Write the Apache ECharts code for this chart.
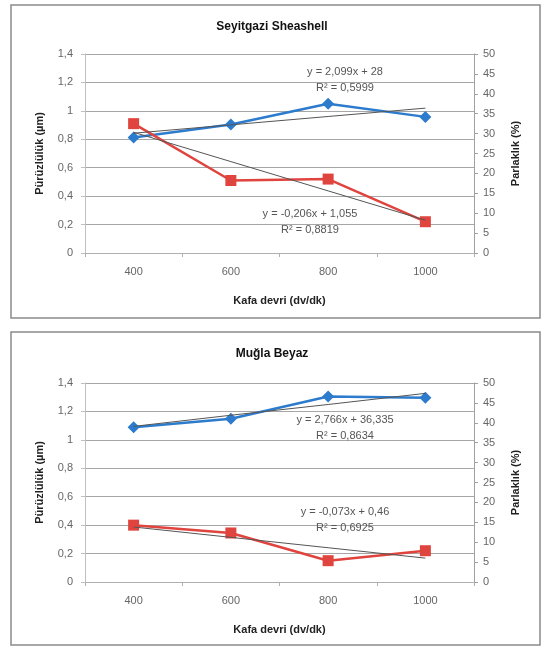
<!DOCTYPE html>
<html>
<head>
<meta charset="utf-8">
<script src="https://cdn.jsdelivr.net/npm/echarts@6/dist/echarts.min.js"></script>
<style>
html,body{margin:0;padding:0;background:#fff;}
#chart{width:544px;height:651px;}
</style>
</head>
<body>
<div id="chart"></div>
<script>
// kategoriler (Kafa devri)
var kategoriler = ['400', '600', '800', '1000'];

// 1. Seyitgazi Sheashell
var seyitParlaklik = [29.0, 32.3, 37.5, 34.2];
var seyitPuruz = [0.91, 0.51, 0.52, 0.22];
var seyitParlakTrend = [30.1, 32.2, 34.3, 36.4];
var seyitPuruzTrend = [0.849, 0.643, 0.437, 0.231];

// 2. Muğla Beyaz
var muglaParlaklik = [38.9, 41.0, 46.6, 46.3];
var muglaPuruz = [0.40, 0.345, 0.15, 0.22];
var muglaParlakTrend = [39.1, 41.9, 44.6, 47.4];
var muglaPuruzTrend = [0.387, 0.314, 0.241, 0.168];

var basliklar = ['Seyitgazi Sheashell', 'Muğla Beyaz'];
var denklemler = [
    ['y = 2,099x + 28', 'R² = 0,5999', 'y = -0,206x + 1,055', 'R² = 0,8819'],
    ['y = 2,766x + 36,335', 'R² = 0,8634', 'y = -0,073x + 0,46', 'R² = 0,6925']
];

var FONT = 'Liberation Sans';
var mavi = '#2d7bcc';
var kirmizi = '#e0443e';

var myChart = echarts.init(document.getElementById('chart'));

function virgul(v) {
    return String(+(+v).toFixed(2)).replace('.', ',');
}

var gridTop = [54, 383];
var grids = [], xAxes = [], yAxes = [], series = [];

for (var g = 0; g < 2; g++) {
    grids.push({left: 85, right: 70, top: gridTop[g], height: 199});
    xAxes.push({
        type: 'category',
        gridIndex: g,
        data: kategoriler,
        boundaryGap: true,
        name: 'Kafa devri (dv/dk)',
        nameLocation: 'middle',
        nameGap: 42,
        nameTextStyle: {color: '#222', fontFamily: FONT, fontSize: 11, fontWeight: 'bold'},
        axisLine: {show: true, lineStyle: {color: '#b0b0b0'}},
        axisTick: {show: true, length: 4, lineStyle: {color: '#b0b0b0'}},
        axisLabel: {color: '#666', fontFamily: FONT, fontSize: 11, margin: 13}
    });
    yAxes.push({
        type: 'value',
        gridIndex: g,
        min: 0, max: 1.4, interval: 0.2,
        name: 'Pürüzlülük (µm)',
        nameLocation: 'middle',
        nameGap: 40,
        nameRotate: 90,
        nameTextStyle: {color: '#222', fontFamily: FONT, fontSize: 11, fontWeight: 'bold'},
        axisLine: {show: true, lineStyle: {color: '#c0c0c0'}},
        axisTick: {show: true, length: 4, lineStyle: {color: '#c0c0c0'}},
        splitLine: {show: true, lineStyle: {color: '#a6a6a6', width: 1}},
        axisLabel: {color: '#666', fontFamily: FONT, fontSize: 11, margin: 12, formatter: virgul}
    });
    yAxes.push({
        type: 'value',
        gridIndex: g,
        position: 'right',
        min: 0, max: 50, interval: 5,
        name: 'Parlaklık (%)',
        nameLocation: 'middle',
        nameGap: 36,
        nameRotate: 90,
        nameTextStyle: {color: '#222', fontFamily: FONT, fontSize: 11, fontWeight: 'bold'},
        axisLine: {show: true, lineStyle: {color: '#a0a0a0'}},
        axisTick: {show: true, length: 4, lineStyle: {color: '#a0a0a0'}},
        splitLine: {show: false},
        axisLabel: {color: '#666', fontFamily: FONT, fontSize: 11, margin: 9}
    });
}

var veri = [
    [seyitParlaklik, seyitPuruz, seyitParlakTrend, seyitPuruzTrend],
    [muglaParlaklik, muglaPuruz, muglaParlakTrend, muglaPuruzTrend]
];

for (var k = 0; k < 2; k++) {
    series.push({
        name: 'Parlaklık', type: 'line', xAxisIndex: k, yAxisIndex: k * 2 + 1,
        data: veri[k][0], symbol: 'diamond', symbolSize: 12,
        lineStyle: {color: mavi, width: 2.5}, itemStyle: {color: mavi}, z: 3
    });
    series.push({
        name: 'Pürüzlülük', type: 'line', xAxisIndex: k, yAxisIndex: k * 2,
        data: veri[k][1], symbol: 'rect', symbolSize: 11,
        lineStyle: {color: kirmizi, width: 2.5}, itemStyle: {color: kirmizi}, z: 3
    });
    series.push({
        type: 'line', xAxisIndex: k, yAxisIndex: k * 2 + 1,
        data: veri[k][2], symbol: 'none',
        lineStyle: {color: '#555', width: 1}, z: 4
    });
    series.push({
        type: 'line', xAxisIndex: k, yAxisIndex: k * 2,
        data: veri[k][3], symbol: 'none',
        lineStyle: {color: '#555', width: 1}, z: 4
    });
}

// kutular, basliklar, denklemler
var kutuY = [5, 332];
var denklemPos = [
    [[345, 72], [345, 88], [310, 214], [310, 230]],
    [[345, 420], [345, 436], [345, 512], [345, 528]]
];
var graphics = [];
for (var b = 0; b < 2; b++) {
    graphics.push({
        type: 'rect', z: -10,
        shape: {x: 11, y: kutuY[b], width: 529, height: 313},
        style: {fill: '#fff', stroke: '#8a8a8a', lineWidth: 1.5}
    });
    graphics.push({
        type: 'text', z: 10,
        x: 272, y: kutuY[b] + 22,
        style: {text: basliklar[b], fill: '#111', font: 'bold 12px ' + FONT, textAlign: 'center', textVerticalAlign: 'middle'}
    });
    for (var d = 0; d < 4; d++) {
        graphics.push({
            type: 'text', z: 10,
            x: denklemPos[b][d][0], y: denklemPos[b][d][1],
            style: {text: denklemler[b][d], fill: '#555', font: '11px ' + FONT, textAlign: 'center', textVerticalAlign: 'middle'}
        });
    }
}

var option = {
    backgroundColor: '#fff',
    animation: false,
    grid: grids,
    xAxis: xAxes,
    yAxis: yAxes,
    series: series,
    graphic: graphics
};
myChart.setOption(option);

window.addEventListener('resize', function () {
    myChart.resize();
});
</script>
</body>
</html>
